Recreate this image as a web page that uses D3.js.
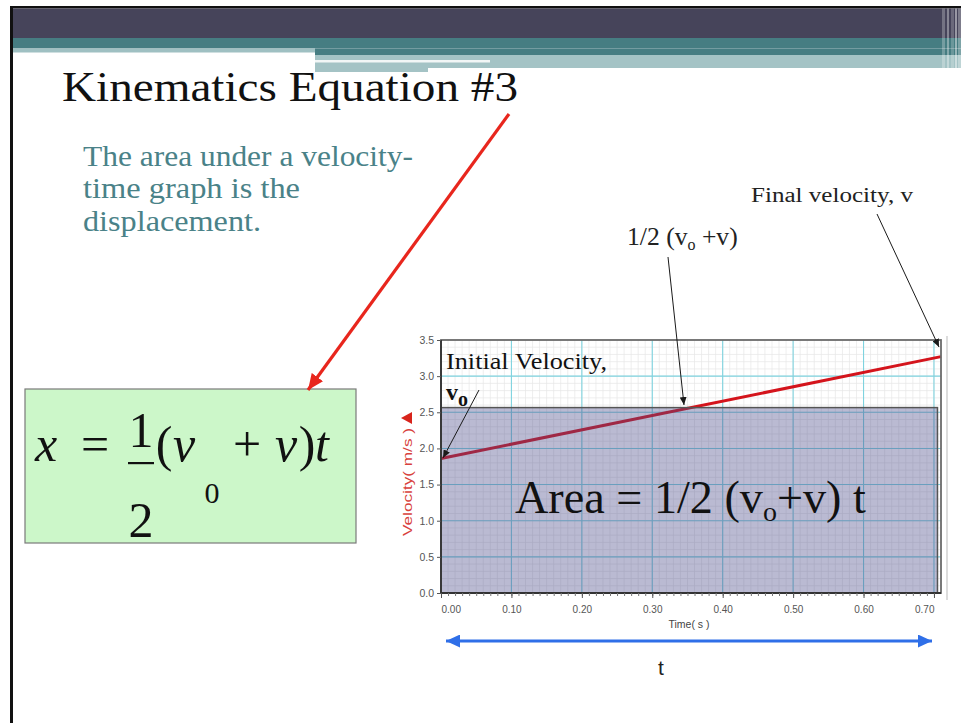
<!DOCTYPE html>
<html>
<head>
<meta charset="utf-8">
<script src="https://cdn.jsdelivr.net/npm/d3@7/dist/d3.min.js"></script>
<style>
  html, body { margin: 0; padding: 0; background: #ffffff; }
  svg { display: block; }
</style>
</head>
<body>
<svg id="slide" width="961" height="723"></svg>
<script>
// Velocity–time data for the uniformly accelerating object
const timeS = [0.00, 0.71];
const velocityMS = [1.86, 3.27];

// Axis ticks and their labels
const xTickValues = [0.00, 0.10, 0.20, 0.30, 0.40, 0.50, 0.60, 0.70];
const xTickLabels = ["0.00", "0.10", "0.20", "0.30", "0.40", "0.50", "0.60", "0.70"];
const yTickValues = [0.0, 0.5, 1.0, 1.5, 2.0, 2.5, 3.0, 3.5];
const yTickLabels = ["0.0", "0.5", "1.0", "1.5", "2.0", "2.5", "3.0", "3.5"];

// Text blocks
const titleText = "Kinematics Equation #3";
const bodyLines = ["The area under a velocity-", "time graph is the", "displacement."];

const svg = d3.select("#slide");
const SERIF = "'Liberation Serif', 'DejaVu Serif', serif";
const SANS = "'Liberation Sans', Arial, sans-serif";

// Scale a text element's font so its rendered width equals w
function fitWidth(sel, w) {
  const fs = parseFloat(sel.attr("font-size"));
  const bw = sel.node().getBBox().width;
  sel.attr("font-size", (fs * w / bw).toFixed(2));
  return sel;
}

// ---------- slide frame and header bands ----------
const defs = svg.append("defs");
svg.append("rect").attr("x", 10).attr("y", 6).attr("width", 951).attr("height", 2.5).attr("fill", "#111");
svg.append("rect").attr("x", 10).attr("y", 6).attr("width", 3).attr("height", 717).attr("fill", "#111");
svg.append("rect").attr("x", 13).attr("y", 8.5).attr("width", 948).attr("height", 30).attr("fill", "#46445a");
svg.append("rect").attr("x", 13).attr("y", 38).attr("width", 948).attr("height", 10.5).attr("fill", "#467d82");
svg.append("rect").attr("x", 13).attr("y", 48.5).attr("width", 302).attr("height", 4).attr("fill", "#9fc0c2");
svg.append("rect").attr("x", 315).attr("y", 48.5).attr("width", 646).attr("height", 6.5).attr("fill", "#467d82");
svg.append("rect").attr("x", 315).attr("y", 55).attr("width", 646).attr("height", 13).attr("fill", "#a4c3c5");
svg.append("rect").attr("x", 315).attr("y", 68).attr("width", 113).attr("height", 4).attr("fill", "#a4c3c5");
svg.append("rect").attr("x", 315).attr("y", 60).attr("width", 175).attr("height", 2.5).attr("fill", "#f2f6f6");
// vertical stripes at the header's right end
[[942, 3, 0.25], [947, 2, 0.35], [951, 3, 0.2], [955, 2, 0.45], [958, 3, 0.3]].forEach(([sx, w, o]) => {
  svg.append("rect").attr("x", sx).attr("y", 8.5).attr("width", w).attr("height", 64)
    .attr("fill", "#ffffff").attr("opacity", o);
});

// ---------- title and body text ----------
const title = svg.append("text").attr("x", 62).attr("y", 101)
  .attr("font-family", SERIF).attr("font-size", 42).attr("fill", "#111").text(titleText);
title.attr("textLength", 456).attr("lengthAdjust", "spacingAndGlyphs");

const bodyY = [166, 198, 231];
const bodyW = [330, 217, 178];
bodyLines.forEach((s, i) => {
  svg.append("text").attr("x", 83).attr("y", bodyY[i])
    .attr("font-family", SERIF).attr("font-size", 29).attr("fill", "#4a8288")
    .attr("textLength", bodyW[i]).attr("lengthAdjust", "spacingAndGlyphs").text(s);
});

// ---------- formula box ----------
svg.append("rect").attr("x", 25).attr("y", 389).attr("width", 331).attr("height", 154)
  .attr("fill", "#ccf7c9").attr("stroke", "#7a7a7a").attr("stroke-width", 1.2);
const fx = svg.append("g").attr("font-family", SERIF).attr("fill", "#111");
const piece = (px, py, s, size, italic, anchor) => fx.append("text").attr("x", px).attr("y", py)
  .attr("font-size", size).attr("font-style", italic ? "italic" : "normal")
  .attr("text-anchor", anchor || "start").text(s);
piece(46, 461, "x", 50, true, "middle");
piece(95, 461, "=", 50, false, "middle");
piece(141, 447, "1", 50, false, "middle");
fx.append("rect").attr("x", 128).attr("y", 462).attr("width", 26).attr("height", 2.2);
piece(141, 537, "2", 50, false, "middle");
piece(164, 461, "(", 50, false, "middle");
piece(184, 461, "v", 50, true, "middle");
piece(212, 503, "0", 30, false, "middle");
piece(247, 461, "+", 50, false, "middle");
piece(286, 461, "v", 50, true, "middle");
piece(307, 461, ")", 50, false, "middle");
piece(322, 461, "t", 50, true, "middle");

// ---------- velocity–time chart ----------
const x = d3.scaleLinear().domain([0, 0.71]).range([441, 941]);
const y = d3.scaleLinear().domain([0, 3.5]).range([593, 340]);
const plot = svg.append("g");

plot.append("rect").attr("x", x(0)).attr("y", y(3.5)).attr("width", x(0.71) - x(0))
  .attr("height", y(0) - y(3.5)).attr("fill", "#ffffff");

// fine grid
plot.append("g").selectAll("line").data(d3.range(1, 71)).join("line")
  .attr("x1", d => x(d / 100)).attr("x2", d => x(d / 100))
  .attr("y1", y(0)).attr("y2", y(3.5))
  .attr("stroke", "#e6e6e6").attr("stroke-width", 0.7);
plot.append("g").selectAll("line").data(d3.range(1, 35)).join("line")
  .attr("x1", x(0)).attr("x2", x(0.71))
  .attr("y1", d => y(d / 10)).attr("y2", d => y(d / 10))
  .attr("stroke", "#e6e6e6").attr("stroke-width", 0.7);
// major grid
plot.append("g").selectAll("line").data(xTickValues.slice(1)).join("line")
  .attr("x1", d => x(d)).attr("x2", d => x(d)).attr("y1", y(0)).attr("y2", y(3.5))
  .attr("stroke", "#7fd3df").attr("stroke-width", 1.1);
plot.append("g").selectAll("line").data(yTickValues.slice(1, -1)).join("line")
  .attr("x1", x(0)).attr("x2", x(0.71)).attr("y1", d => y(d)).attr("y2", d => y(d))
  .attr("stroke", "#7fd3df").attr("stroke-width", 1.1);

// velocity line
const lineData = timeS.map((t, i) => ({ t, v: velocityMS[i] }));
plot.append("path").datum(lineData)
  .attr("d", d3.line().x(d => x(d.t)).y(d => y(d.v)))
  .attr("fill", "none").attr("stroke", "#d4141c").attr("stroke-width", 3);

// area rectangle at the average velocity
const vAvg = (velocityMS[0] + velocityMS[velocityMS.length - 1]) / 2;
plot.append("rect").attr("x", x(0)).attr("y", y(vAvg))
  .attr("width", x(0.705) - x(0)).attr("height", y(0) - y(vAvg))
  .attr("fill", "#4a4a8a").attr("fill-opacity", 0.38)
  .attr("stroke", "#555").attr("stroke-width", 1.5);

// frame
plot.append("rect").attr("x", x(0)).attr("y", y(3.5)).attr("width", x(0.71) - x(0))
  .attr("height", y(0) - y(3.5)).attr("fill", "none").attr("stroke", "#6b6b6b").attr("stroke-width", 1.8);
plot.append("line").attr("x1", x(0)).attr("x2", x(0.71)).attr("y1", y(0)).attr("y2", y(0))
  .attr("stroke", "#333").attr("stroke-width", 2);
plot.append("line").attr("x1", x(0)).attr("x2", x(0)).attr("y1", y(0)).attr("y2", y(3.5))
  .attr("stroke", "#333").attr("stroke-width", 1.8);
svg.append("line").attr("x1", 947).attr("x2", 947).attr("y1", 336).attr("y2", 600)
  .attr("stroke", "#dcdcdc").attr("stroke-width", 2);

// axes
const xAxis = d3.axisBottom(x).tickValues(d3.range(0, 71).map(d => d / 100))
  .tickSize(3).tickFormat(() => "");
plot.append("g").attr("transform", `translate(0,${y(0)})`).call(xAxis)
  .call(g => g.select(".domain").remove())
  .call(g => g.selectAll("line").attr("stroke", "#777"));
const xAxisMajor = d3.axisBottom(x).tickValues(xTickValues).tickSize(5)
  .tickFormat((d, i) => xTickLabels[i]);
plot.append("g").attr("transform", `translate(0,${y(0)})`).call(xAxisMajor)
  .call(g => g.select(".domain").remove())
  .call(g => g.selectAll("line").attr("stroke", "#555"))
  .call(g => g.selectAll("text").attr("font-family", SANS).attr("font-size", 10)
    .attr("fill", "#555").attr("dy", "1.15em")
    .attr("text-anchor", (d, i) => i === 0 ? "start" : (i === xTickValues.length - 1 ? "end" : "middle")));

const yAxis = d3.axisLeft(y).tickValues(yTickValues).tickSize(4)
  .tickFormat((d, i) => yTickLabels[i]);
plot.append("g").attr("transform", `translate(${x(0)},0)`).call(yAxis)
  .call(g => g.select(".domain").remove())
  .call(g => g.selectAll("line").attr("stroke", "#555"))
  .call(g => g.selectAll("text").attr("font-family", SANS).attr("font-size", 10.5)
    .attr("fill", "#555").attr("x", -7));

svg.append("text").attr("x", 689).attr("y", 628).attr("text-anchor", "middle")
  .attr("font-family", SANS).attr("font-size", 10.5).attr("fill", "#444").text("Time( s )");
const yLab = svg.append("text").attr("transform", "translate(412,482) rotate(-90)").attr("text-anchor", "middle")
  .attr("font-family", SANS).attr("font-size", 13).attr("fill", "#d8423c").text("Velocity( m/s )");
yLab.attr("textLength", 108).attr("lengthAdjust", "spacingAndGlyphs");
svg.append("path").attr("d", "M401,418 L412,412 L412,424 Z").attr("fill", "#d8241c");

// ---------- annotations ----------
function arrowMarker(id, color, w, h) {
  defs.append("marker").attr("id", id).attr("viewBox", `0 0 ${w} ${h}`)
    .attr("refX", w).attr("refY", h / 2).attr("markerUnits", "userSpaceOnUse")
    .attr("markerWidth", w).attr("markerHeight", h).attr("orient", "auto-start-reverse")
    .append("path").attr("d", `M0,0 L${w},${h / 2} L0,${h} Z`).attr("fill", color);
}
arrowMarker("blk", "#1a1a1a", 8, 7);
arrowMarker("red", "#e8261d", 16, 14);
arrowMarker("blu", "#2f6fe8", 14, 13);

const pointer = (x1, y1, x2, y2) => svg.append("line")
  .attr("x1", x1).attr("y1", y1).attr("x2", x2).attr("y2", y2)
  .attr("stroke", "#1a1a1a").attr("stroke-width", 1).attr("marker-end", "url(#blk)");

// red arrow from the title to the formula
svg.append("line").attr("x1", 509).attr("y1", 114).attr("x2", 308).attr("y2", 390)
  .attr("stroke", "#e8261d").attr("stroke-width", 3.2).attr("marker-end", "url(#red)");

// Final velocity
const fv = svg.append("text").attr("x", 751).attr("y", 202).attr("font-family", SERIF)
  .attr("font-size", 20).attr("fill", "#222").text("Final velocity, v");
fv.attr("textLength", 162).attr("lengthAdjust", "spacingAndGlyphs");
pointer(877, 214, 939, 347);

// Average velocity
const av = svg.append("text").attr("x", 627).attr("y", 245).attr("font-family", SERIF)
  .attr("font-size", 20).attr("fill", "#222");
av.append("tspan").text("1/2 (v");
av.append("tspan").attr("dy", 5).attr("font-size", 16).text("o");
av.append("tspan").attr("dy", -5).text(" +v)");
fitWidth(av, 113);
pointer(668, 257, 684, 405);

// Initial velocity
const iv = svg.append("text").attr("x", 446).attr("y", 369).attr("font-family", SERIF)
  .attr("font-size", 24).attr("fill", "#111").text("Initial Velocity,");
iv.attr("textLength", 161).attr("lengthAdjust", "spacingAndGlyphs");
const v0 = svg.append("text").attr("x", 446).attr("y", 400).attr("font-family", SERIF)
  .attr("font-size", 24).attr("font-weight", "bold").attr("fill", "#111");
v0.append("tspan").text("v");
v0.append("tspan").attr("dy", 6).attr("font-size", 20).text("o");
pointer(479, 390, 443, 458);

// Area statement
const area = svg.append("text").attr("x", 515).attr("y", 513).attr("font-family", SERIF)
  .attr("font-size", 40).attr("fill", "#111");
area.append("tspan").text("Area = 1/2 (v");
area.append("tspan").attr("dy", 8).attr("font-size", 28).text("o");
area.append("tspan").attr("dy", -8).text("+v) t");
fitWidth(area, 353);

// time-span arrow
svg.append("line").attr("x1", 446).attr("y1", 641).attr("x2", 932).attr("y2", 641)
  .attr("stroke", "#2f6fe8").attr("stroke-width", 3)
  .attr("marker-start", "url(#blu)").attr("marker-end", "url(#blu)");
svg.append("text").attr("x", 661).attr("y", 675).attr("text-anchor", "middle")
  .attr("font-family", SANS).attr("font-size", 21).attr("fill", "#222").text("t");
</script>
</body>
</html>
